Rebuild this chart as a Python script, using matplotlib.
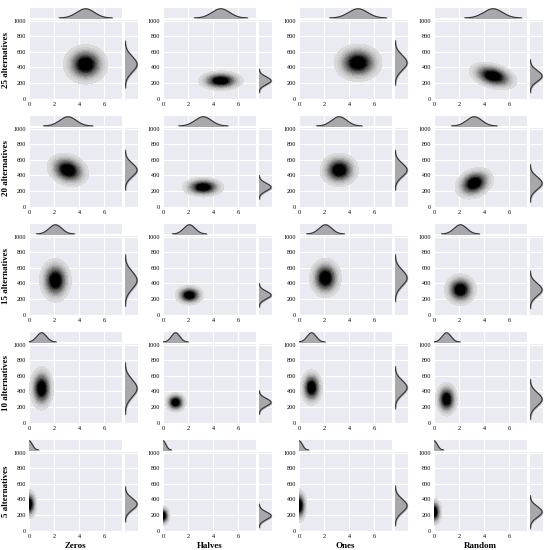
import numpy as np
import matplotlib
matplotlib.use('Agg')
import matplotlib.pyplot as plt

# ── Data: per-panel distribution estimates ───────────────────────────────────
rows = ['25 alternatives', '20 alternatives', '15 alternatives',
        '10 alternatives', '5 alternatives']
cols = ['Zeros', 'Halves', 'Ones', 'Random']

# centre / spread along x (first axis) for each row x column
x_mean = [[4.5, 4.6, 4.7, 4.7],
          [3.1, 3.2, 3.2, 3.2],
          [2.1, 2.1, 2.1, 2.1],
          [1.0, 1.0, 1.0, 1.0],
          [0.0, 0.0, 0.0, 0.0]]
x_sd = [[0.7, 0.7, 0.75, 0.75],
        [0.65, 0.65, 0.6, 0.6],
        [0.5, 0.45, 0.5, 0.5],
        [0.38, 0.33, 0.35, 0.35],
        [0.25, 0.22, 0.25, 0.25]]
# centre / spread along y (second axis)
y_mean = [[440, 230, 460, 290],
          [470, 250, 470, 300],
          [440, 250, 470, 320],
          [440, 260, 450, 300],
          [340, 190, 320, 240]]
y_sd = [[100, 50, 95, 70],
        [85, 50, 85, 80],
        [110, 50, 100, 80],
        [110, 50, 90, 85],
        [75, 50, 85, 70]]
corr = [[0.0, 0.0, 0.0, -0.35],
        [-0.2, 0.0, 0.0, 0.25],
        [0.0, 0.0, 0.0, 0.0],
        [0.0, 0.0, 0.0, 0.0],
        [0.0, 0.0, 0.0, 0.0]]

xticks = [0, 2, 4, 6]
yticks = [0, 200, 400, 600, 800, 1000]

BG = '#EAEAF2'
XMAX, YMAX = 7.4, 1010

plt.rcParams['font.family'] = ['Liberation Serif', 'DejaVu Serif']


def style(ax):
    ax.set_facecolor(BG)
    for s in ax.spines.values():
        s.set_visible(False)
    ax.grid(True, color='white', linewidth=0.8)
    ax.set_axisbelow(True)
    ax.tick_params(length=0, labelsize=4.5, pad=2)


def gauss(v, m, s):
    return np.exp(-0.5 * ((v - m) / s) ** 2) / (s * np.sqrt(2 * np.pi))


fig = plt.figure(figsize=(5.5, 5.5), dpi=100)
W = 550.0
lefts = [29, 163, 299, 434]
tops = [20, 128, 236, 344, 452]
mw, mh = 93, 79
xs = np.linspace(0, XMAX, 300)
ys = np.linspace(0, YMAX, 300)
XX, YY = np.meshgrid(xs, ys)

for r in range(5):
    for c in range(4):
        L, T = lefts[c], tops[r]
        ax = fig.add_axes([L / W, 1 - (T + mh) / W, mw / W, mh / W])
        axt = fig.add_axes([L / W, 1 - (T - 2) / W, mw / W, 10 / W], sharex=ax)
        axr = fig.add_axes([(L + mw + 3) / W, 1 - (T + mh) / W, 13 / W, mh / W],
                           sharey=ax)
        for a in (ax, axt, axr):
            style(a)

        mx, sx = x_mean[r][c], x_sd[r][c]
        my, sy = y_mean[r][c], y_sd[r][c]
        rho = corr[r][c]
        zx = (XX - mx) / sx
        zy = (YY - my) / sy
        Z = np.exp(-(zx ** 2 - 2 * rho * zx * zy + zy ** 2) / (2 * (1 - rho ** 2)))
        levels = np.linspace(0.04, 1.0, 18)
        ax.contourf(XX, YY, Z, levels=levels, cmap='Greys', vmin=-0.18, vmax=0.8)

        ax.set_xlim(0, XMAX)
        ax.set_ylim(-5, YMAX)
        ax.set_xticks(xticks)
        ax.set_yticks(yticks)

        # marginal on top
        gx = np.linspace(max(0, mx - 3 * sx), mx + 3 * sx, 200)
        dx = gauss(gx, mx, sx)
        axt.fill_between(gx, 0, dx, color='#a8a8ac')
        axt.plot(gx, dx, color='#333333', linewidth=0.8)
        axt.set_ylim(0, dx.max() * 1.08)
        axt.set_yticks([])
        plt.setp(axt.get_xticklabels(), visible=False)

        # marginal on the right
        gy = np.linspace(max(0, my - 3 * sy), my + 3 * sy, 200)
        dy = gauss(gy, my, sy)
        axr.fill_betweenx(gy, 0, dy, color='#a8a8ac')
        axr.plot(dy, gy, color='#333333', linewidth=0.8)
        axr.set_xlim(0, dy.max() * 1.08)
        axr.set_xticks([])
        plt.setp(axr.get_yticklabels(), visible=False)

        if c == 0:
            ax.set_ylabel(rows[r], fontsize=6.5, fontweight='bold', labelpad=3)
        if r == 4:
            ax.set_xlabel(cols[c], fontsize=6.5, fontweight='bold', labelpad=2)

fig.savefig('out.png', dpi=100, facecolor='white')
